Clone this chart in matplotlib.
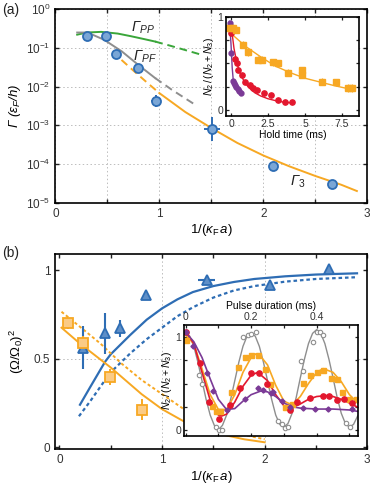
import matplotlib
matplotlib.use('Agg')
import matplotlib.pyplot as plt
from matplotlib.ticker import NullLocator

plt.rcParams['font.family'] = ['Liberation Sans', 'DejaVu Sans']
plt.rcParams['mathtext.fontset'] = 'custom'
plt.rcParams['mathtext.rm'] = 'Liberation Sans'
plt.rcParams['mathtext.it'] = 'Liberation Sans:italic'
plt.rcParams['mathtext.bf'] = 'Liberation Sans:bold'
plt.rcParams['mathtext.sf'] = 'Liberation Sans'
plt.rcParams['axes.linewidth'] = 1.2
plt.rcParams['text.color'] = '#333333'
plt.rcParams['xtick.color'] = '#222222'
plt.rcParams['ytick.color'] = '#222222'
plt.rcParams['xtick.labelcolor'] = '#333333'
plt.rcParams['ytick.labelcolor'] = '#333333'

# ---------------- colours ----------------
BLUE = '#2E6DB4'
BLUE_FILL = '#7AA6D6'
TRI_FILL = '#5E8FC8'
ORANGE = '#F7A823'
ORANGE_FILL = '#FBCB85'
GREEN = '#3AA63A'
GRAY = '#8E8E8E'
RED = '#E3172E'
PURPLE = '#7B3A96'

# ---------------- panel (a) data ----------------
a_x = [0.308, 0.487, 0.584, 0.798, 0.970, 1.507, 2.090, 2.665]
a_y = [0.205, 0.205, 0.069, 0.030, 0.0042, 8.0e-4, 9.1e-5, 3.1e-5]
a_ylo = [0, 0, 0, 0, 0.0012, 4.0e-4, 0, 0]
a_yhi = [0, 0, 0, 0, 0.0017, 8.0e-4, 0, 0]
a_xerr = [0, 0, 0, 0, 0.05, 0.08, 0, 0]

gpp_x = [0.21, 0.30, 0.44, 0.60, 0.73, 0.85, 0.96]
gpp_y = [0.22, 0.25, 0.26, 0.235, 0.20, 0.17, 0.146]
gpp_dx = [0.96, 1.10, 1.25, 1.41]
gpp_dy = [0.146, 0.115, 0.088, 0.066]

gpf_x = [0.21, 0.31, 0.47, 0.64, 0.80, 0.96]
gpf_y = [0.25, 0.25, 0.162, 0.081, 0.036, 0.0166]
gpf_dx = [0.96, 1.12, 1.33]
gpf_dy = [0.0166, 0.0083, 0.0036]

g3_dx = [0.636, 0.75, 0.875, 1.0]
g3_dy = [0.049, 0.026, 0.0132, 0.0068]
g3_x = [1.0, 1.25, 1.5, 1.75, 2.0, 2.25, 2.5, 2.75, 2.9]
g3_y = [0.0068, 0.0022, 8.5e-4, 3.5e-4, 1.66e-4, 8.7e-5, 4.9e-5, 2.9e-5, 2.0e-5]

# inset (a): hold time
ia_ox = [-0.13, 0.16, 0.35, 0.83, 1.13, 1.85, 2.07, 2.86, 3.16, 3.83, 4.78, 4.82, 6.13, 7.07, 7.93, 8.15]
ia_oy = [0.88, 0.88, 0.86, 0.70, 0.62, 0.54, 0.54, 0.51, 0.50, 0.40, 0.425, 0.38, 0.305, 0.295, 0.234, 0.234]
ia_ocx = [0, 1, 2, 3, 4, 5, 6, 7, 8, 8.3]
ia_ocy = [0.82, 0.68, 0.57, 0.47, 0.40, 0.34, 0.30, 0.26, 0.225, 0.215]
ia_rx = [0.0, 0.27, 0.38, 0.49, 0.76, 0.95, 1.28, 1.51, 1.74, 2.25, 2.70, 3.16, 3.65, 4.14]
ia_ry = [0.83, 0.55, 0.50, 0.43, 0.38, 0.305, 0.27, 0.235, 0.216, 0.187, 0.162, 0.108, 0.09, 0.08]
ia_rcx = [0.05, 0.2, 0.4, 0.6, 0.9, 1.2, 1.6, 2.0, 2.5, 3.0, 3.5, 4.14]
ia_rcy = [0.85, 0.66, 0.50, 0.40, 0.30, 0.24, 0.185, 0.15, 0.12, 0.10, 0.085, 0.075]
ia_px = [-0.1, 0.0, 0.13, 0.20, 0.27, 0.35, 0.45, 0.55, 0.65]
ia_py = [0.93, 0.61, 0.31, 0.29, 0.27, 0.25, 0.22, 0.20, 0.18]
ia_pcx = [-0.1, 0.0, 0.08, 0.15, 0.25, 0.4, 0.55, 0.68]
ia_pcy = [0.95, 0.70, 0.45, 0.32, 0.26, 0.21, 0.18, 0.155]

# ---------------- panel (b) data ----------------
tri_x = [0.229, 0.446, 0.591, 0.844, 1.435, 2.050, 2.627]
tri_y = [0.562, 0.643, 0.671, 0.859, 0.944, 0.917, 1.004]
tri_yerr = [0.12, 0.117, 0.047, 0.025, 0.02, 0.015, 0.015]
tri_xerr = [0, 0, 0, 0.03, 0.08, 0, 0]
sq_x = [0.083, 0.225, 0.494, 0.80]
sq_y = [0.699, 0.587, 0.398, 0.212]
sq_yerr = [0.03, 0.04, 0.045, 0.06]

bs_x = [0.2, 0.3, 0.445, 0.5, 0.69, 0.85, 1.0, 1.15, 1.3, 1.5, 1.7, 1.9, 2.2, 2.5, 2.9]
bs_y = [0.24, 0.34, 0.483, 0.525, 0.634, 0.72, 0.784, 0.835, 0.876, 0.91, 0.933, 0.95, 0.965, 0.975, 0.982]
bd_x = [0.19, 0.3, 0.494, 0.69, 0.85, 1.0, 1.15, 1.3, 1.5, 1.7, 1.9, 2.2, 2.5, 2.9]
bd_y = [0.175, 0.26, 0.42, 0.53, 0.61, 0.675, 0.74, 0.79, 0.845, 0.885, 0.91, 0.935, 0.95, 0.96]
os_x = [0.02, 0.2, 0.4, 0.5, 0.6, 0.8, 1.0, 1.2, 1.4, 1.6, 1.8, 2.0]
os_y = [0.675, 0.585, 0.495, 0.45, 0.40, 0.30, 0.215, 0.15, 0.10, 0.07, 0.045, 0.028]
od_x = [0.02, 0.2, 0.4, 0.5, 0.6, 0.8, 1.0, 1.2, 1.4, 1.6, 1.8, 2.0]
od_y = [0.765, 0.68, 0.585, 0.53, 0.475, 0.38, 0.30, 0.22, 0.155, 0.105, 0.07, 0.045]

# inset (b): pulse duration
ib_gcx = [i * 0.0125 for i in range(43)]
ib_gcy = [1.05, 1.01, 0.90, 0.73, 0.53, 0.33, 0.16, 0.05, 0.0, 0.05, 0.16, 0.33, 0.53, 0.73, 0.90, 1.01, 1.04,
          1.01, 0.90, 0.73, 0.53, 0.33, 0.16, 0.06, 0.03, 0.07, 0.18, 0.35, 0.56, 0.76, 0.93, 1.04, 1.08,
          1.04, 0.93, 0.76, 0.56, 0.35, 0.18, 0.07, 0.03, 0.06, 0.15]
ib_gx = [0.042, 0.049, 0.092, 0.102, 0.112, 0.174, 0.191, 0.200, 0.215, 0.281, 0.293, 0.303, 0.313,
         0.351, 0.359, 0.390, 0.400, 0.410, 0.418, 0.490, 0.502]
ib_gy = [0.59, 0.49, 0.03, 0.0, 0.0, 1.0, 1.02, 1.035, 1.05, 0.10, 0.06, 0.02, 0.03,
         0.74, 0.63, 0.95, 1.05, 1.05, 1.02, 0.08, 0.036]
ib_ocx = [0, 0.025, 0.05, 0.075, 0.1, 0.125, 0.15, 0.175, 0.2, 0.215, 0.225, 0.25, 0.275, 0.3, 0.325,
          0.35, 0.375, 0.4, 0.42, 0.45, 0.475, 0.5, 0.525]
ib_ocy = [1.02, 0.93, 0.66, 0.38, 0.22, 0.22, 0.38, 0.62, 0.78, 0.82, 0.81, 0.70, 0.48, 0.31, 0.27,
          0.36, 0.50, 0.62, 0.66, 0.62, 0.52, 0.38, 0.29]
ib_ox = [0.0, 0.079, 0.092, 0.105, 0.14, 0.161, 0.181, 0.2, 0.222, 0.242, 0.257, 0.303, 0.324, 0.359,
         0.38, 0.40, 0.42, 0.443, 0.461, 0.476, 0.5, 0.52]
ib_oy = [0.97, 0.26, 0.2, 0.2, 0.41, 0.68, 0.79, 0.805, 0.81, 0.655, 0.5, 0.245, 0.28, 0.51,
         0.59, 0.62, 0.65, 0.56, 0.55, 0.41, 0.33, 0.33]
ib_rcx = [0, 0.025, 0.05, 0.075, 0.1, 0.11, 0.125, 0.15, 0.175, 0.2, 0.22, 0.25, 0.275, 0.3, 0.325,
          0.35, 0.375, 0.4, 0.43, 0.45, 0.475, 0.5, 0.525]
ib_rcy = [1.06, 0.93, 0.62, 0.32, 0.16, 0.15, 0.17, 0.30, 0.47, 0.59, 0.62, 0.53, 0.38, 0.26, 0.24,
          0.28, 0.33, 0.36, 0.37, 0.36, 0.33, 0.29, 0.245]
ib_rx = [0.0, 0.044, 0.072, 0.103, 0.135, 0.166, 0.2, 0.225, 0.249, 0.318, 0.339, 0.38, 0.42, 0.438,
         0.461, 0.483, 0.507]
ib_ry = [1.05, 0.72, 0.305, 0.115, 0.27, 0.45, 0.61, 0.61, 0.5, 0.215, 0.305, 0.34, 0.367, 0.367,
         0.32, 0.33, 0.295]
ib_pcx = [0, 0.025, 0.05, 0.075, 0.1, 0.125, 0.15, 0.175, 0.2, 0.23, 0.25, 0.275, 0.3, 0.325, 0.35,
          0.4, 0.45, 0.5, 0.525]
ib_pcy = [1.05, 0.95, 0.78, 0.55, 0.33, 0.22, 0.23, 0.31, 0.38, 0.42, 0.41, 0.36, 0.29, 0.25, 0.235,
          0.225, 0.225, 0.215, 0.2]
ib_px = [0.0, 0.023, 0.064, 0.084, 0.125, 0.181, 0.222, 0.237, 0.262, 0.268, 0.293, 0.318, 0.359,
         0.395, 0.435, 0.507]
ib_py = [1.05, 0.905, 0.61, 0.42, 0.215, 0.33, 0.45, 0.43, 0.395, 0.41, 0.31, 0.245, 0.234,
         0.223, 0.223, 0.223]

# ---------------- figure ----------------
fig = plt.figure(figsize=(3.74, 4.86), dpi=100)
GRID = dict(color='#BDBDBD', linestyle=(0, (1.5, 2.5)), linewidth=0.7)
TICKS = dict(direction='in', top=True, right=True, length=3, width=1.0, labelsize=8.5)

# ===== panel (a) =====
ax1 = fig.add_axes([0.148, 0.583, 0.834, 0.398])
ax1.set_yscale('log')
ax1.set_xlim(0, 3)
ax1.set_ylim(1e-5, 1)
ax1.set_xticks([0, 1, 2, 3])
ax1.set_xticks([0.5, 1.5, 2.5], minor=True)
ax1.set_yticks([1e-5, 1e-4, 1e-3, 1e-2, 1e-1, 1])
ax1.yaxis.set_minor_locator(NullLocator())
ax1.tick_params(which='both', **TICKS)
ax1.grid(True, which='both', axis='x', **GRID)
ax1.grid(True, which='major', axis='y', **GRID)
ax1.set_axisbelow(True)

ax1.plot(gpp_x, gpp_y, color=GREEN, lw=1.4)
ax1.plot(gpp_dx, gpp_dy, color=GREEN, lw=1.4, dashes=(4, 2.5))
ax1.plot(gpf_x, gpf_y, color=GRAY, lw=1.4)
ax1.plot(gpf_dx, gpf_dy, color=GRAY, lw=1.4, dashes=(4, 2.5))
ax1.plot(g3_dx, g3_dy, color=ORANGE, lw=1.4, dashes=(4, 2.5))
ax1.plot(g3_x, g3_y, color=ORANGE, lw=1.4)
ax1.errorbar(a_x, a_y, yerr=[a_ylo, a_yhi], xerr=a_xerr, fmt='o', ms=6.5, mfc=BLUE_FILL,
             mec=BLUE, mew=1.3, ecolor=BLUE, elinewidth=1.4, capsize=0, zorder=5)

ax1.text(0.73, 0.26, r'Γ$_{PP}$', fontsize=10.5, color='#222222', style='italic')
ax1.text(0.75, 0.047, r'Γ$_{PF}$', fontsize=10.5, color='#222222', style='italic')
ax1.text(2.26, 2.7e-5, r'Γ$_{\mathit{3}}$', fontsize=10.5, color='#222222', style='italic')
ax1.set_ylabel(r'Γ (ε$_F$/h)', fontsize=9.5, labelpad=2, style='italic')
ax1.set_xlabel(r'1/($\kappa_\mathrm{F}\,a$)', fontsize=9.5, labelpad=2)
fig.text(0.005, 0.993, '(a)', fontsize=10, va='top', ha='left', color='#222222')

# inset (a)
ia = fig.add_axes([0.6035, 0.7613, 0.3564, 0.2043])
ia.set_xlim(-0.36, 8.65)
ia.set_ylim(-0.065, 1.0)
ia.set_xticks([0, 2.5, 5, 7.5])
ia.set_xticklabels(['0', '2.5', '5', '7.5'])
ia.set_yticks([0, 0.25, 0.5, 0.75, 1])
ia.set_yticklabels(['0', '', '', '', '1'])
ia.tick_params(which='both', direction='in', top=True, right=True, length=2.5, width=0.9,
               labelsize=7.5, pad=2)
ia.plot(ia_ocx, ia_ocy, color=ORANGE, lw=1.0)
ia.plot(ia_rcx, ia_rcy, color=RED, lw=1.0)
ia.plot(ia_pcx, ia_pcy, color=PURPLE, lw=1.0)
ia.errorbar(ia_ox, ia_oy, yerr=0.04, xerr=0.15, fmt='s', ms=3.8, mfc=ORANGE, mec=ORANGE,
            ecolor=ORANGE, elinewidth=0.9, capsize=0)
ia.plot(ia_rx, ia_ry, 'o', ms=3.8, color=RED)
ia.plot(ia_px, ia_py, 'o', ms=3.5, color=PURPLE)
ia.set_xlabel('Hold time (ms)', fontsize=7.5, labelpad=1)
ia.set_ylabel(r'$\mathit{N}_2\,/\,(\mathit{N}_2+\mathit{N}_3)$', fontsize=7.5, labelpad=1)

# ===== panel (b) =====
ax2 = fig.add_axes([0.148, 0.0761, 0.834, 0.402])
ax2.set_xlim(-0.04, 3.0)
ax2.set_ylim(-0.01, 1.093)
ax2.set_xticks([0, 1, 2, 3])
ax2.set_xticks([0.5, 1.5, 2.5], minor=True)
ax2.set_yticks([0, 0.5, 1])
ax2.set_yticklabels(['0', '0.5', '1'])
ax2.tick_params(which='both', **TICKS)
ax2.grid(True, which='major', **GRID)
for gl, v in zip(ax2.xaxis.get_gridlines(), [0, 1, 2, 3]):
    gl.set_visible(v in (1, 2))
for gl, v in zip(ax2.yaxis.get_gridlines(), [0, 0.5, 1]):
    gl.set_visible(v == 0.5)
ax2.set_axisbelow(True)

ax2.plot(bs_x, bs_y, color=BLUE, lw=1.6)
ax2.plot(bd_x, bd_y, color=BLUE, lw=1.6, dashes=(1.6, 1.3))
ax2.plot(os_x, os_y, color=ORANGE, lw=1.4)
ax2.plot(od_x, od_y, color=ORANGE, lw=1.4, dashes=(1.6, 1.3))
ax2.errorbar(tri_x, tri_y, yerr=tri_yerr, xerr=tri_xerr, fmt='^', ms=7.5, mfc=TRI_FILL, mec=BLUE,
             mew=1.3, ecolor=BLUE, elinewidth=1.5, capsize=0, zorder=5)
ax2.errorbar(sq_x, sq_y, yerr=sq_yerr, fmt='s', ms=6.5, mfc=ORANGE_FILL, mec=ORANGE, mew=1.3,
             ecolor=ORANGE, elinewidth=1.4, capsize=0, zorder=5)
ax2.set_ylabel(r'$(\Omega/\Omega_0)^2$', fontsize=9.5, labelpad=6)
ax2.set_xlabel(r'1/($\kappa_\mathrm{F}\,a$)', fontsize=9.5, labelpad=2)
fig.text(0.005, 0.493, '(b)', fontsize=10, va='top', ha='left', color='#222222')

# inset (b)
ib = fig.add_axes([0.4928, 0.1029, 0.4652, 0.2284])
ib.set_xlim(-0.004, 0.527)
ib.set_ylim(-0.065, 1.13)
ib.set_xticks([0, 0.2, 0.4])
ib.set_xticklabels(['0', '0.2', '0.4'])
ib.set_xticks([0.1, 0.3, 0.5], minor=True)
ib.set_yticks([0, 0.25, 0.5, 0.75, 1])
ib.set_yticklabels(['0', '', '', '', '1'])
ib.xaxis.set_ticks_position('both')
ib.xaxis.set_label_position('top')
ib.tick_params(which='both', direction='in', top=True, right=True, bottom=True, length=2.5,
               width=0.9, labelsize=7.5, pad=2, labeltop=True, labelbottom=False)
ib.plot(ib_gcx, ib_gcy, color=GRAY, lw=1.0)
ib.plot(ib_ocx, ib_ocy, color=ORANGE, lw=1.2)
ib.plot(ib_rcx, ib_rcy, color=RED, lw=1.2)
ib.plot(ib_pcx, ib_pcy, color=PURPLE, lw=1.2)
ib.plot(ib_gx, ib_gy, 'o', ms=3.2, mfc='white', mec=GRAY, mew=0.8)
ib.plot(ib_ox, ib_oy, 's', ms=3.6, color=ORANGE)
ib.plot(ib_rx, ib_ry, 'o', ms=3.8, color=RED)
ib.errorbar(ib_px, ib_py, yerr=0.02, xerr=0.006, fmt='D', ms=2.6, color=PURPLE,
            ecolor=PURPLE, elinewidth=0.9, capsize=0)
ib.set_xlabel('Pulse duration (ms)', fontsize=7.5, labelpad=2)
ib.set_ylabel(r'$\mathit{N}_2\,/\,(\mathit{N}_2+\mathit{N}_3)$', fontsize=7.5, labelpad=1)

fig.savefig('out.png', dpi=100)
